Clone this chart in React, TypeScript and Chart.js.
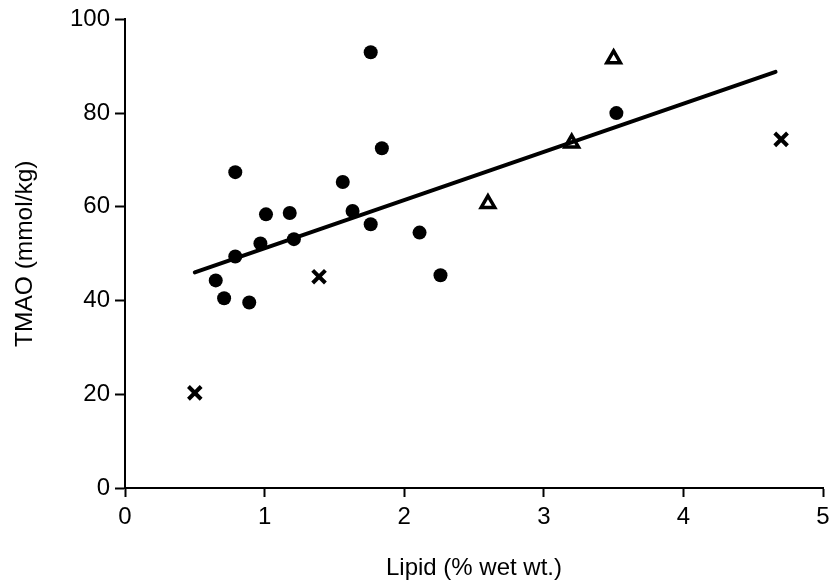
import React, { useEffect, useRef } from "react";
import { Chart, registerables } from "chart.js";

Chart.register(...registerables);

// Circles (filled)
const circleX = [0.65, 0.71, 0.89, 0.79, 0.79, 0.97, 1.01, 1.18, 1.21, 1.56, 1.63, 1.76, 1.76, 1.84, 2.11, 2.26, 3.52];
const circleY = [44.3, 40.5, 39.6, 67.4, 49.4, 52.2, 58.4, 58.7, 53.1, 65.3, 59.1, 93.0, 56.3, 72.5, 54.5, 45.4, 80.0];

// Crosses
const crossX = [0.5, 1.39, 4.7];
const crossY = [20.3, 45.1, 74.4];

// Open triangles
const triX = [2.6, 3.2, 3.5];
const triY = [60.7, 73.6, 91.6];

// Regression line endpoints
const lineX = [0.5, 4.66];
const lineY = [46.0, 88.8];

const xTicks = [0, 1, 2, 3, 4, 5];
const yTicks = [0, 20, 40, 60, 80, 100];

const xTitle = "Lipid (% wet wt.)";
const yTitle = "TMAO (mmol/kg)";

const zip = (xs: number[], ys: number[]) => xs.map((x, i) => ({ x, y: ys[i] }));

export default function App() {
  const ref = useRef<HTMLCanvasElement | null>(null);

  useEffect(() => {
    if (!ref.current) return;
    const font = "'Liberation Sans', Arial, sans-serif";
    const narrow = "'Liberation Sans Narrow', 'Liberation Sans', Arial, sans-serif";
    const chart = new Chart(ref.current, {
      type: "scatter",
      data: {
        datasets: [
          {
            label: "fit",
            data: zip(lineX, lineY),
            showLine: true,
            borderColor: "#000",
            borderWidth: 4,
            pointRadius: 0,
            borderCapStyle: "round",
          } as any,
          {
            label: "circles",
            data: zip(circleX, circleY),
            pointStyle: "circle",
            pointRadius: 7,
            backgroundColor: "#000",
            borderColor: "#000",
            borderWidth: 0,
          },
          {
            label: "crosses",
            data: zip(crossX, crossY),
            pointStyle: "crossRot",
            pointRadius: 9,
            borderColor: "#000",
            borderWidth: 4,
          },
          {
            label: "triangles",
            data: zip(triX, triY),
            pointStyle: "triangle",
            pointRadius: 7.8,
            backgroundColor: "#fff",
            borderColor: "#000",
            borderWidth: 3.5,
          },
        ],
      },
      options: {
        responsive: false,
        animation: false,
        devicePixelRatio: 1,
        layout: { padding: { left: 0, right: 11, top: 19, bottom: 0 } },
        plugins: { legend: { display: false }, tooltip: { enabled: false } },
        scales: {
          x: {
            type: "linear",
            min: 0,
            max: 5,
            afterBuildTicks: (s: any) => {
              s.ticks = xTicks.map((v) => ({ value: v }));
            },
            afterFit: (s: any) => {
              s.height = 97;
            },
            ticks: {
              color: "#000",
              font: { family: narrow, size: 24 },
              padding: 6,
              maxRotation: 0,
            },
            grid: {
              drawOnChartArea: false,
              drawTicks: true,
              tickLength: 9,
              tickColor: "#000",
              tickWidth: 2,
              color: "#000",
            },
            border: { display: true, color: "#000", width: 2 },
            title: {
              display: true,
              text: xTitle,
              color: "#000",
              font: { family: font, size: 24 },
              padding: { top: 4, bottom: 2 },
            },
          },
          y: {
            type: "linear",
            min: 0,
            max: 100,
            afterBuildTicks: (s: any) => {
              s.ticks = yTicks.map((v) => ({ value: v }));
            },
            afterFit: (s: any) => {
              s.width = 125;
            },
            ticks: {
              color: "#000",
              font: { family: narrow, size: 24 },
              padding: 5,
            },
            grid: {
              drawOnChartArea: false,
              drawTicks: true,
              tickLength: 10,
              tickColor: "#000",
              tickWidth: 2,
              color: "#000",
            },
            border: { display: true, color: "#000", width: 2 },
            title: {
              display: true,
              text: yTitle,
              color: "#000",
              font: { family: font, size: 24.5 },
              padding: { top: 11, bottom: 4 },
            },
          },
        },
      },
    });
    return () => chart.destroy();
  }, []);

  return (
    <div style={{ position: "absolute", left: 0, top: 0, width: 836, height: 585, background: "#fff" }}>
      <canvas ref={ref} width={836} height={585} style={{ display: "block" }} />
    </div>
  );
}
